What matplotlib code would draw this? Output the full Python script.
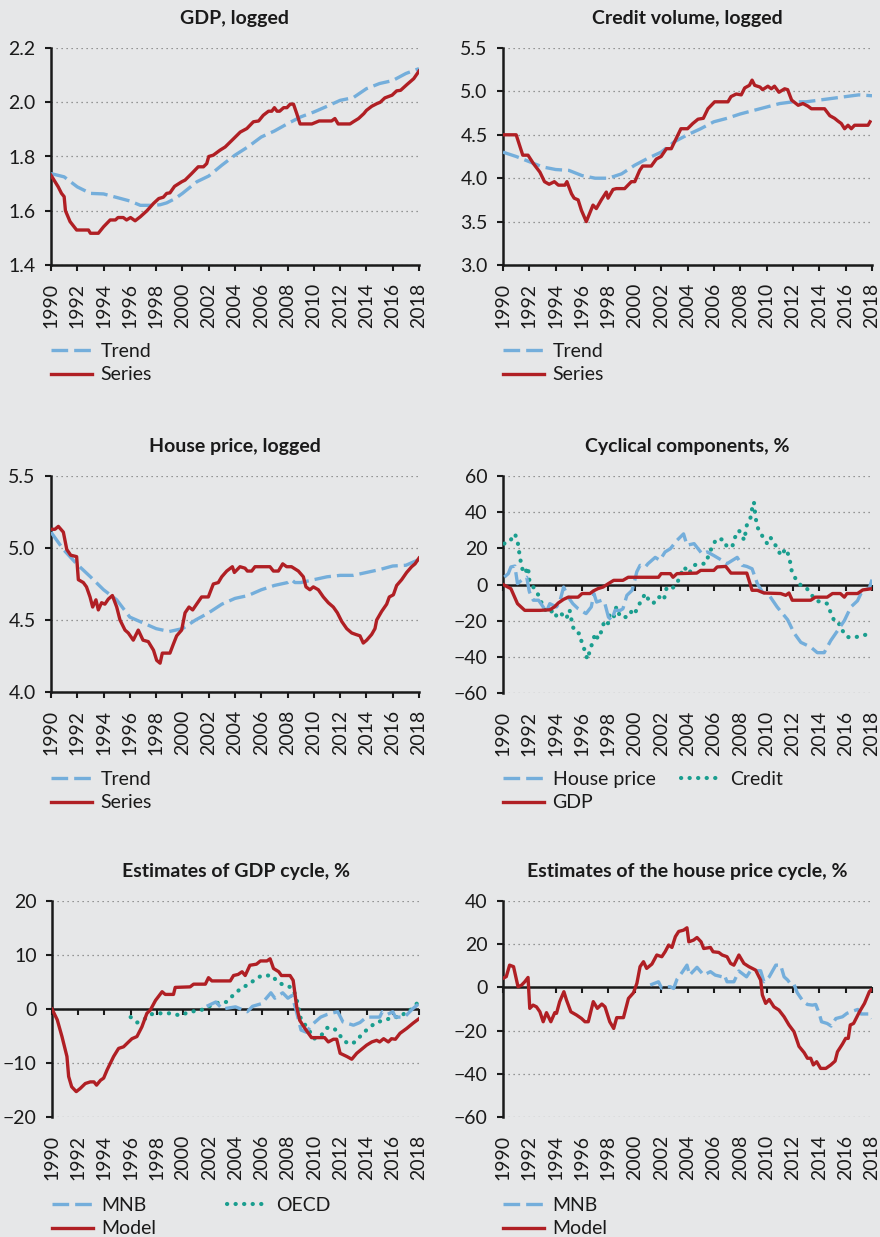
import matplotlib
matplotlib.use("Agg")
import matplotlib.pyplot as plt
from matplotlib.ticker import FormatStrFormatter

# ---------------- data ----------------
year_ticks = list(range(1990, 2019, 2))

# GDP, logged
gdp_trend_years = [1990, 1991, 1992, 1993, 1994, 1995, 1996, 1996.8, 1997.8, 1998.3, 1998.8, 1999.45,
                   2000, 2001.1, 2002, 2003, 2004, 2005, 2006, 2007, 2008, 2009, 2010, 2011, 2012,
                   2013, 2014, 2015, 2016, 2017, 2018]
gdp_trend = [1.737, 1.725, 1.688, 1.664, 1.662, 1.649, 1.636, 1.62, 1.62, 1.622, 1.629, 1.645,
             1.664, 1.707, 1.728, 1.768, 1.805, 1.836, 1.872, 1.894, 1.921, 1.946, 1.964, 1.985, 2.007,
             2.017, 2.05, 2.069, 2.08, 2.106, 2.124]
gdp_series_years = [1990, 1990.55, 1990.8, 1991.0, 1991.1, 1991.45, 1991.95, 1992.85, 1993.0, 1993.6,
                    1994.0, 1994.5, 1994.9, 1995.1, 1995.5, 1995.75, 1996.05, 1996.4, 1996.8, 1997.3,
                    1997.8, 1998.2, 1998.55, 1998.8, 1999.05, 1999.4, 1999.95, 2000.2, 2000.7, 2001.2,
                    2001.6, 2001.85, 2002.0, 2002.35, 2002.85, 2003.25, 2003.9, 2004.4, 2004.9, 2005.4,
                    2005.8, 2006.15, 2006.55, 2006.8, 2007.0, 2007.2, 2007.4, 2007.7, 2007.95, 2008.2,
                    2008.45, 2008.7, 2008.95, 2009.85, 2010.4, 2011.35, 2011.6, 2011.85, 2012.75, 2013.0,
                    2013.4, 2013.8, 2014.0, 2014.4, 2014.8, 2015.05, 2015.4, 2015.95, 2016.3, 2016.6,
                    2017.1, 2017.6, 2018]
gdp_series = [1.731, 1.688, 1.664, 1.652, 1.60, 1.56, 1.529, 1.529, 1.517, 1.517,
              1.541, 1.566, 1.566, 1.575, 1.575, 1.566, 1.575, 1.563, 1.578, 1.60,
              1.627, 1.645, 1.65, 1.664, 1.666, 1.69, 1.707, 1.713, 1.737, 1.762,
              1.762, 1.774, 1.80, 1.805, 1.823, 1.835, 1.866, 1.89, 1.903, 1.928,
              1.931, 1.952, 1.967, 1.967, 1.98, 1.967, 1.967, 1.98, 1.98, 1.993,
              1.993, 1.958, 1.92, 1.92, 1.931, 1.931, 1.94, 1.92, 1.92, 1.928,
              1.94, 1.958, 1.97, 1.985, 1.995, 2.0, 2.016, 2.026, 2.042, 2.044,
              2.066, 2.087, 2.115]

# Credit volume, logged
credit_trend_years = [1990, 1991, 1992, 1993, 1994, 1995, 1996, 1997, 1998, 1999, 2000, 2001, 2002,
                      2003, 2004, 2005, 2006, 2007, 2008, 2009, 2010, 2011, 2012, 2013, 2014, 2015,
                      2016, 2017, 2018]
credit_trend = [4.30, 4.25, 4.19, 4.13, 4.10, 4.09, 4.03, 4.00, 4.00, 4.05, 4.15, 4.23, 4.30,
                4.42, 4.50, 4.57, 4.65, 4.69, 4.74, 4.78, 4.82, 4.86, 4.88, 4.88, 4.90, 4.92,
                4.94, 4.96, 4.95]
credit_series_years = [1990, 1991.0, 1991.5, 1991.9, 1992.3, 1992.8, 1993.15, 1993.5, 1993.9, 1994.2,
                       1994.7, 1994.85, 1995.2, 1995.4, 1995.7, 1995.95, 1996.32, 1996.83, 1997.08,
                       1997.46, 1997.84, 1997.97, 1998.35, 1998.6, 1999.23, 1999.74, 2000.0, 2000.37,
                       2000.6, 2001.25, 2001.63, 2002.0, 2002.4, 2002.77, 2003.15, 2003.5, 2004.0,
                       2004.4, 2004.8, 2005.2, 2005.55, 2006.06, 2007.07, 2007.3, 2007.7, 2008.08,
                       2008.34, 2008.7, 2008.9, 2009.1, 2009.5, 2009.7, 2010.1, 2010.36, 2010.6,
                       2010.94, 2011.37, 2011.6, 2011.9, 2012.4, 2012.76, 2013.14, 2013.4, 2014.4,
                       2014.8, 2015.16, 2015.4, 2015.67, 2015.92, 2016.18, 2016.43, 2016.68, 2017.7,
                       2017.85]
credit_series = [4.50, 4.50, 4.265, 4.265, 4.17, 4.07, 3.96, 3.93, 3.96, 3.92,
                 3.92, 3.96, 3.82, 3.77, 3.75, 3.63, 3.50, 3.69, 3.65,
                 3.75, 3.84, 3.77, 3.87, 3.88, 3.88, 3.96, 3.96, 4.09,
                 4.14, 4.14, 4.22, 4.25, 4.34, 4.34, 4.46, 4.57, 4.57,
                 4.63, 4.68, 4.69, 4.80, 4.88, 4.88, 4.94, 4.97, 4.96,
                 5.04, 5.07, 5.13, 5.07, 5.05, 5.02, 5.06, 5.03, 5.06,
                 4.99, 5.03, 5.02, 4.90, 4.84, 4.86, 4.83, 4.80, 4.80,
                 4.72, 4.69, 4.66, 4.63, 4.57, 4.61, 4.57, 4.61, 4.61,
                 4.65]

# House price, logged
house_trend_years = [1990, 1990.94, 1991.95, 1993, 1994, 1995, 1996, 1997, 1998, 1999, 2000, 2001,
                     2002, 2003, 2004, 2005, 2006, 2007, 2008, 2008.3, 2008.56, 2009, 2010, 2011,
                     2012, 2013, 2014, 2015, 2016, 2017, 2018]
house_trend = [5.11, 4.99, 4.89, 4.80, 4.71, 4.64, 4.52, 4.48, 4.44, 4.42, 4.44, 4.50,
               4.55, 4.61, 4.65, 4.67, 4.71, 4.74, 4.76, 4.78, 4.76, 4.76, 4.78, 4.80,
               4.81, 4.81, 4.83, 4.85, 4.875, 4.88, 4.92]
house_series_years = [1990, 1990.3, 1990.56, 1990.94, 1991.2, 1991.5, 1991.95, 1992.08, 1992.46,
                      1992.7, 1992.97, 1993.17, 1993.42, 1993.6, 1993.85, 1994.1, 1994.36, 1994.67,
                      1995.0, 1995.25, 1995.63, 1995.88, 1996.26, 1996.64, 1997.0, 1997.4, 1997.8,
                      1998.04, 1998.3, 1998.47, 1999.05, 1999.3, 1999.56, 1999.94, 2000.2, 2000.5,
                      2000.78, 2001.08, 2001.46, 2001.97, 2002.35, 2002.73, 2002.99, 2003.37, 2003.8,
                      2003.95, 2004.38, 2004.76, 2004.94, 2005.27, 2005.52, 2006.66, 2006.92, 2007.3,
                      2007.63, 2007.93, 2008.3, 2008.82, 2009.2, 2009.4, 2009.7, 2009.96, 2010.34,
                      2010.72, 2011.1, 2011.48, 2011.79, 2012.12, 2012.5, 2012.88, 2013.18, 2013.51,
                      2013.76, 2014.02, 2014.4, 2014.65, 2014.78, 2015.16, 2015.54, 2015.74, 2016.05,
                      2016.3, 2016.68, 2017.06, 2017.44, 2017.7, 2018]
house_series = [5.13, 5.13, 5.15, 5.11, 4.99, 4.95, 4.94, 4.78, 4.76,
                4.73, 4.66, 4.59, 4.64, 4.57, 4.62, 4.61, 4.645, 4.67,
                4.59, 4.50, 4.43, 4.41, 4.36, 4.43, 4.36, 4.35, 4.29,
                4.22, 4.20, 4.27, 4.27, 4.33, 4.39, 4.43, 4.55, 4.59,
                4.57, 4.61, 4.66, 4.66, 4.75, 4.76, 4.80, 4.84, 4.87,
                4.83, 4.87, 4.86, 4.84, 4.84, 4.87, 4.87, 4.84, 4.84,
                4.89, 4.87, 4.87, 4.84, 4.80, 4.73, 4.71, 4.73, 4.71,
                4.66, 4.62, 4.59, 4.55, 4.49, 4.44, 4.41, 4.40, 4.39,
                4.34, 4.36, 4.40, 4.44, 4.50, 4.56, 4.61, 4.66, 4.675,
                4.74, 4.78, 4.83, 4.87, 4.89, 4.93]

# Cyclical components, %
cyc_house_years = [1990.1, 1990.4, 1990.6, 1990.9, 1991.1, 1991.4, 1991.8, 1992.0, 1992.3, 1992.7,
                   1993.05, 1993.3, 1993.55, 1993.8, 1994.06, 1994.3, 1994.6, 1994.95, 1995.3, 1995.7,
                   1996.1, 1996.3, 1996.7, 1996.9, 1997.1, 1997.5, 1997.7, 1998.0, 1998.25, 1998.5,
                   1998.9, 1999.1, 1999.4, 1999.8, 2000.0, 2000.15, 2000.4, 2000.8, 2001.0, 2001.55,
                   2001.9, 2002.3, 2002.7, 2003.2, 2003.7, 2003.96, 2004.5, 2005.1, 2005.5, 2006.0,
                   2006.6, 2007.0, 2007.77, 2008.15, 2008.5, 2008.9, 2009.3, 2009.67, 2010.2, 2010.8,
                   2011.6, 2012.1, 2012.6, 2013.35, 2013.85, 2014.37, 2014.87, 2015.4, 2015.9, 2016.4,
                   2016.9, 2017.16, 2017.5, 2017.8, 2018]
cyc_house = [4.1, 6, 9.7, 10.2, 0.5, 2.3, 4, -4, -8.7, -8.7,
             -12.4, -15, -10.6, -11.5, -12.4, -9.7, -1.4, -7, -10.6, -13.4,
             -15.2, -16.1, -12.4, -5, -9.7, -8.7, -9.7, -18, -19.8, -14.3,
             -14.3, -13.4, -6, -3.2, 2.3, 7, 10.6, 9.7, 11.5, 15,
             13.4, 18, 19.8, 24.4, 28, 21.7, 22.6, 17, 18, 16,
             13.4, 11.5, 15, 10.6, 10, 8.7, 0.5, -4, -6, -12.4,
             -19.5, -27, -32, -34.6, -37.7, -37.7, -31, -25.4, -20, -12.4,
             -9, -5, -3, -2, 2.7]
cyc_credit_years = [1990.1, 1990.4, 1990.6, 1990.9, 1991.1, 1991.2, 1991.3, 1991.4, 1991.65, 1991.9,
                    1992.0, 1992.3, 1992.7, 1992.9, 1993.2, 1993.55, 1993.8, 1994.1, 1994.4, 1994.8,
                    1995.05, 1995.3, 1995.6, 1995.8, 1996.0, 1996.2, 1996.4, 1996.6, 1996.8, 1997.0,
                    1997.2, 1997.5, 1997.7, 1998.0, 1998.1, 1998.4, 1998.6, 1998.9, 1999.3, 1999.5,
                    1999.8, 2000.0, 2000.3, 2000.5, 2000.8, 2001.0, 2001.4, 2001.7, 2001.9, 2002.2,
                    2002.4, 2002.7, 2003.2, 2003.45, 2003.75, 2004.1, 2004.5, 2004.85, 2005.35, 2005.6,
                    2005.86, 2006.2, 2006.75, 2007.0, 2007.4, 2007.6, 2007.9, 2008.15, 2008.3, 2008.5,
                    2008.8, 2008.9, 2009.04, 2009.16, 2009.3, 2009.5, 2009.8, 2010.05, 2010.3, 2010.56,
                    2010.8, 2011.07, 2011.3, 2011.4, 2011.7, 2011.9, 2012.2, 2012.6, 2012.97, 2013.35,
                    2013.7, 2014.1, 2014.6, 2015.0, 2015.25, 2015.6, 2015.75, 2016.1, 2016.6, 2017.0,
                    2017.4, 2018]
cyc_credit = [22.6, 24.8, 24.8, 28, 24.4, 19, 15, 9.7, 6, 9.7,
              2.3, -1.4, -6, -9.7, -14, -16, -14, -18, -16, -19,
              -14, -23.5, -27, -27, -32.7, -36.4, -41.4, -36.4, -31.8, -27,
              -30, -25.4, -19.8, -21.6, -16, -18, -12.4, -18, -18, -18,
              -14.3, -16, -11.5, -8.7, -5, -7.8, -10.6, -7, -7, -8.7,
              -2.3, -3.2, 0.5, 5, 9.7, 6, 10.6, 11.5, 11.5, 16,
              20.7, 25.3, 24.8, 20.7, 21, 26, 29.9, 27, 24.4, 32.7,
              37.3, 41.9, 45.6, 37.3, 31.8, 29, 25.3, 22.6, 26, 22.6,
              20.7, 16, 18, 19.8, 16, 7.8, 3.2, -0.5, -1.4, -5,
              -8.7, -9.7, -10.6, -18, -21.6, -22, -25.4, -29, -29.4, -28.7,
              -28, -27]
cyc_gdp_years = [1990, 1990.6, 1991.1, 1991.65, 1992.8, 1993.55, 1993.9, 1994.2, 1994.6, 1994.95,
                 1995.7, 1996.0, 1996.6, 1996.85, 1997.2, 1997.6, 1998.0, 1998.4, 1999.1, 1999.5,
                 2001.8, 2002.0, 2002.7, 2002.9, 2003.2, 2004.7, 2005.0, 2006.0, 2006.25, 2006.9,
                 2007.3, 2008.5, 2008.9, 2009.3, 2009.8, 2011.07, 2011.45, 2011.7, 2011.95, 2013.35,
                 2013.7, 2014.6, 2015.0, 2015.6, 2015.9, 2016.1, 2016.9, 2017.3, 2018]
cyc_gdp = [0, -2.3, -10.6, -14.3, -14.3, -14, -12.4, -10.2, -8.2, -7,
           -7, -5, -5, -3.6, -2.3, -1.4, 0.5, 2.3, 2.3, 4,
           4, 6, 6, 4, 6, 6.3, 7.8, 7.8, 9.7, 10,
           6.3, 6.3, -3.2, -3.2, -4.7, -5, -6, -4.7, -8.7, -8.7,
           -7, -7, -5, -5, -7, -5, -5, -3, -2.3]

# Estimates of GDP cycle, %
gdpc_model_years = [1990, 1990.4, 1990.76, 1991.14, 1991.27, 1991.5, 1991.85, 1992.16, 1992.54, 1992.92,
                    1993.2, 1993.4, 1993.7, 1993.94, 1994.2, 1994.7, 1995.08, 1995.46, 1995.84, 1996.1,
                    1996.48, 1996.86, 1997.24, 1997.5, 1997.9, 1998.4, 1998.64, 1999.27, 1999.4, 2000.54,
                    2000.8, 2001.7, 2001.94, 2002.2, 2003.6, 2003.85, 2004.2, 2004.5, 2004.74, 2005.1,
                    2005.6, 2005.9, 2006.4, 2006.64, 2006.9, 2007.3, 2007.5, 2008.16, 2008.4, 2008.67,
                    2008.9, 2009.3, 2009.8, 2010.8, 2011.08, 2011.47, 2011.72, 2011.98, 2012.5, 2012.87,
                    2013.25, 2013.6, 2014.0, 2014.4, 2014.77, 2015.0, 2015.3, 2015.66, 2015.9, 2016.2,
                    2016.55, 2017.06, 2017.56, 2018]
gdpc_model = [0, -2, -5.1, -8.8, -12.5, -14.4, -15.3, -14.7, -13.8, -13.5,
              -13.5, -14.1, -13.2, -12.8, -11.3, -8.8, -7.3, -7, -6.1, -5.5,
              -5.1, -3.3, -0.8, -0.2, 1.6, 3.2, 2.7, 2.7, 4, 4.1,
              4.6, 4.6, 5.8, 5.2, 5.2, 6.2, 6.4, 6.9, 6.2, 8.1,
              8.3, 8.9, 8.9, 9.3, 7.5, 6.9, 6.2, 6.2, 5.3, 0.4,
              -2.1, -3.6, -5.3, -5.3, -6.1, -5.6, -5.6, -8.2, -8.8, -9.3,
              -8.2, -7.5, -6.7, -6.1, -5.8, -6.1, -5.5, -6.1, -5.5, -5.6,
              -4.5, -3.6, -2.6, -1.8]
gdpc_mnb_years = [2001.8, 2002.5, 2003.0, 2004.0, 2004.9, 2005.3, 2006.0, 2006.7, 2007.0, 2007.6,
                  2008.0, 2008.3, 2008.6, 2009.0, 2009.4, 2009.8, 2010.5, 2011.0, 2011.8, 2012.2,
                  2013.0, 2013.5, 2014.0, 2015.0, 2015.2, 2015.6, 2016.0, 2016.2, 2016.9, 2017.5,
                  2018]
gdpc_mnb = [0.5, 1.3, 0, 0.4, -0.5, 0.5, 1, 3, 2, 3,
            2, 2.5, 0, -3.9, -4.3, -3, -1.5, -1, -0.5, -2.4,
            -3, -2.5, -1.5, -1.5, -0.5, -1, -0.5, -1.5, -1.5, 0,
            1]
gdpc_oecd_years = [1996, 1996.5, 1997, 1997.5, 1998, 1999, 1999.8, 2000.5, 2001.3, 2002, 2002.7,
                   2003.3, 2003.8, 2004.5, 2005, 2005.5, 2006, 2006.8, 2007.2, 2007.8, 2008.3,
                   2008.6, 2009, 2009.5, 2010, 2010.5, 2011, 2011.5, 2012, 2012.3, 2012.8,
                   2013.2, 2013.7, 2014.2, 2014.7, 2015.5, 2016, 2016.6, 2017, 2017.5, 2018]
gdpc_oecd = [-1.5, -2.5, -2, -1, -0.8, -0.8, -1.2, -0.5, -0.3, 0.5, 1.2,
             1.3, 2.5, 4, 4.5, 5.5, 6.2, 6.2, 5, 4.3, 4,
             2.5, -2, -3.5, -5.5, -5, -3.5, -3.5, -5, -6, -6.5,
             -6, -4.5, -3.5, -2.5, -2, -1.5, -1.5, -0.5, 0, 1.5]

# Estimates of the house price cycle, %
hpc_model_years = [1990, 1990.25, 1990.5, 1990.8, 1991.14, 1991.4, 1991.65, 1991.9, 1992.03, 1992.28,
                   1992.54, 1992.8, 1993.05, 1993.3, 1993.63, 1993.93, 1994.06, 1994.3, 1994.62, 1994.82,
                   1995.15, 1995.58, 1995.96, 1996.22, 1996.47, 1996.85, 1997.16, 1997.5, 1997.74, 1998.1,
                   1998.4, 1998.63, 1999.14, 1999.52, 1999.9, 2000.16, 2000.4, 2000.66, 2000.9, 2001.3,
                   2001.67, 2002.05, 2002.3, 2002.57, 2002.82, 2003.08, 2003.33, 2003.7, 2003.96, 2004.1,
                   2004.46, 2004.72, 2005.03, 2005.23, 2005.74, 2005.94, 2006.37, 2006.63, 2007.0, 2007.27,
                   2007.52, 2007.9, 2008.28, 2008.66, 2009.17, 2009.55, 2009.68, 2009.93, 2010.2, 2010.56,
                   2010.94, 2011.33, 2011.7, 2012.08, 2012.46, 2012.85, 2013.1, 2013.35, 2013.55, 2013.8,
                   2014.1, 2014.5, 2014.87, 2015.2, 2015.38, 2015.76, 2016.0, 2016.2, 2016.35, 2016.6,
                   2017.05, 2017.43, 2017.8, 2017.93]
hpc_model = [4.2, 5, 10.3, 9.6, 0.3, 1, 2.6, 4.6, -9.7, -8.2,
             -9, -11.3, -15.9, -11.7, -15.9, -11.7, -12, -6.6, -2, -5.9,
             -11.3, -12.8, -14.4, -15.9, -15.9, -6.6, -9.7, -7.7, -9, -15.9,
             -19, -14, -14, -5.1, -2.5, 1.9, 9.6, 11.9, 8.8, 10.8,
             15, 14.2, 16.5, 19.6, 18.5, 23.5, 25.9, 26.5, 27.6, 21.1,
             21.9, 23.1, 21.1, 18, 18.5, 16.5, 16.2, 15, 14.2, 11.1,
             10.3, 15, 11.1, 9.6, 8, 3.4, -3.5, -7.4, -5.6, -9,
             -10.5, -13.6, -17.4, -20.5, -27.3, -30.2, -32.8, -32.8, -35.9, -34.4,
             -37.5, -37.5, -35.9, -34.1, -29.8, -26.2, -23.6, -23.6, -17.4, -16.7,
             -11.3, -7.4, -2, -1.2]
hpc_mnb_years = [2001.17, 2001.8, 2002.05, 2002.44, 2002.7, 2002.95, 2003.2, 2003.63, 2003.96, 2004.16,
                 2004.72, 2005.23, 2005.74, 2006.1, 2006.63, 2006.8, 2007.0, 2007.52, 2007.9, 2008.48,
                 2008.78, 2009.55, 2009.8, 2010.2, 2010.7, 2011.07, 2011.33, 2011.6, 2011.83, 2012.08,
                 2012.33, 2012.79, 2013.1, 2013.48, 2013.73, 2013.99, 2014.17, 2014.6, 2014.9, 2015.26,
                 2015.76, 2016.1, 2016.4, 2016.92, 2017.17, 2017.8, 2018]
hpc_mnb = [1.1, 2.6, -0.5, 0.3, 0.3, -0.5, 3.7, 7.3, 10.3, 5.7,
           9.3, 5.7, 7.3, 5.7, 4.9, 5.7, 2.6, 2.6, 7.6, 4.9,
           7.7, 7.7, 2.6, 4.9, 10.3, 10.3, 4.9, 3.4, 1.5, 1.5,
           -2.5, -6.6, -7.9, -8.2, -7.9, -12, -15.9, -16.7, -17.9, -14.4,
           -13.6, -12, -11.3, -10.2, -12.3, -12.3, -14.4]

# ---------------- style ----------------
plt.rcParams['font.family'] = ['Lato', 'DejaVu Sans']
plt.rcParams['axes.unicode_minus'] = True

BG = '#e6e7e8'
RED = '#b01f24'
BLUE = '#74aedb'
TEAL = '#1a9e8f'
INK = '#1a1a1a'
LW = 2.4
FS = 14

W, H = 880, 1237
fig = plt.figure(figsize=(W / 100, H / 100), dpi=100, facecolor=BG)


def make_axes(left, top, right, bottom):
    return fig.add_axes([left / W, 1 - bottom / H, (right - left) / W, (bottom - top) / H])


def style_axes(ax, title, yticks, fmt=None, zero_axis=False):
    ax.set_facecolor(BG)
    ax.set_xlim(1990, 2018)
    ax.set_ylim(yticks[0], yticks[-1])
    ax.set_yticks(yticks)
    if fmt:
        ax.yaxis.set_major_formatter(FormatStrFormatter(fmt))
    ax.set_xticks(year_ticks)
    ax.set_xticklabels([str(y) for y in year_ticks], rotation=90)
    for s in ['top', 'right']:
        ax.spines[s].set_visible(False)
    ax.spines['left'].set_linewidth(1.8)
    ax.spines['left'].set_color(INK)
    ax.grid(axis='y', color='#7a7a7a', linestyle=(0, (1, 3)), linewidth=0.9)
    ax.set_axisbelow(True)
    ax.tick_params(axis='y', direction='out', length=4, width=1.5, pad=7, labelsize=FS,
                   colors=INK)
    if zero_axis:
        ax.spines['bottom'].set_visible(False)
        ax.tick_params(axis='x', length=0, pad=13, labelsize=FS, colors=INK)
        ax.axhline(0, color=INK, lw=1.8, zorder=1.5)
        frac = (0 - yticks[0]) / (yticks[-1] - yticks[0])
        sec = ax.secondary_xaxis(frac)
        sec.set_xticks(year_ticks)
        sec.xaxis.set_ticks_position('bottom')
        sec.tick_params(axis='x', direction='out', length=4, width=1.5, labelbottom=False,
                        labeltop=False, colors=INK)
        for s in sec.spines.values():
            s.set_visible(False)
    else:
        ax.spines['bottom'].set_linewidth(1.8)
        ax.spines['bottom'].set_color(INK)
        ax.tick_params(axis='x', direction='out', length=4, width=1.5, pad=9, labelsize=FS,
                       colors=INK)
    ax.set_title(title, fontsize=FS, fontweight='bold', pad=17, color=INK)


def dashed(ax, x, y, label):
    ax.plot(x, y, color=BLUE, lw=LW, dashes=(5.0, 1.8), label=label, zorder=3)


def solid(ax, x, y, label):
    ax.plot(x, y, color=RED, lw=LW, label=label, zorder=4, solid_joinstyle='round')


def dotted(ax, x, y, label):
    ax.plot(x, y, color=TEAL, lw=LW + 0.6, linestyle=(0, (0.05, 2.0)), dash_capstyle='round',
            label=label, zorder=3)


def add_legend(ax, x_px, y_px, order=None, ncol=1, colspace=1.5):
    h, l = ax.get_legend_handles_labels()
    if order:
        h = [h[l.index(name)] for name in order]
        l = list(order)
    leg = ax.legend(h, l, loc='upper left', bbox_to_anchor=(x_px / W, 1 - y_px / H),
                    bbox_transform=fig.transFigure, frameon=False, fontsize=FS, ncol=ncol,
                    handlelength=2.1, handletextpad=0.45, labelspacing=0.33, borderpad=0,
                    borderaxespad=0, columnspacing=colspace)
    for t in leg.get_texts():
        t.set_color(INK)


# Panel 1: GDP, logged
ax1 = make_axes(51, 48, 419, 265)
style_axes(ax1, 'GDP, logged', [1.4, 1.6, 1.8, 2.0, 2.2], fmt='%.1f')
dashed(ax1, gdp_trend_years, gdp_trend, 'Trend')
solid(ax1, gdp_series_years, gdp_series, 'Series')
add_legend(ax1, 51, 343)

# Panel 2: Credit volume, logged
ax2 = make_axes(503, 48, 872, 265)
style_axes(ax2, 'Credit volume, logged', [3.0, 3.5, 4.0, 4.5, 5.0, 5.5], fmt='%.1f')
dashed(ax2, credit_trend_years, credit_trend, 'Trend')
solid(ax2, credit_series_years, credit_series, 'Series')
add_legend(ax2, 503, 343)

# Panel 3: House price, logged
ax3 = make_axes(51, 476, 419, 692)
style_axes(ax3, 'House price, logged', [4.0, 4.5, 5.0, 5.5], fmt='%.1f')
dashed(ax3, house_trend_years, house_trend, 'Trend')
solid(ax3, house_series_years, house_series, 'Series')
add_legend(ax3, 51, 771)

# Panel 4: Cyclical components, %
ax4 = make_axes(503, 476, 872, 693)
style_axes(ax4, 'Cyclical components, %', [-60, -40, -20, 0, 20, 40, 60], zero_axis=True)
dotted(ax4, cyc_credit_years, cyc_credit, 'Credit')
dashed(ax4, cyc_house_years, cyc_house, 'House price')
solid(ax4, cyc_gdp_years, cyc_gdp, 'GDP')
add_legend(ax4, 503, 771, order=['House price', 'GDP', 'Credit'], ncol=2, colspace=1.3)

# Panel 5: Estimates of GDP cycle, %
ax5 = make_axes(52, 901, 419, 1117)
style_axes(ax5, 'Estimates of GDP cycle, %', [-20, -10, 0, 10, 20], zero_axis=True)
dotted(ax5, gdpc_oecd_years, gdpc_oecd, 'OECD')
dashed(ax5, gdpc_mnb_years, gdpc_mnb, 'MNB')
solid(ax5, gdpc_model_years, gdpc_model, 'Model')
add_legend(ax5, 52, 1197, order=['MNB', 'Model', 'OECD'], ncol=2, colspace=3.6)

# Panel 6: Estimates of the house price cycle, %
ax6 = make_axes(503, 901, 872, 1117)
style_axes(ax6, 'Estimates of the house price cycle, %', [-60, -40, -20, 0, 20, 40],
           zero_axis=True)
dashed(ax6, hpc_mnb_years, hpc_mnb, 'MNB')
solid(ax6, hpc_model_years, hpc_model, 'Model')
add_legend(ax6, 503, 1197)

fig.savefig('out.png', dpi=100, facecolor=BG)
